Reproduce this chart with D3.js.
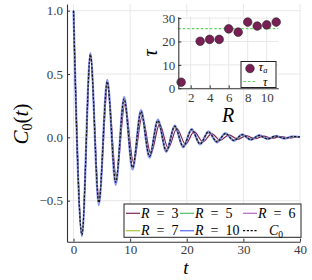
<!DOCTYPE html>
<html>
<head>
<meta charset="utf-8">
<script src="https://cdn.jsdelivr.net/npm/d3@7"></script>
<style>
  body { margin: 0; background: #fff; }
  svg { display: block; }
</style>
</head>
<body>
<svg id="chart" width="312" height="280"></svg>
<script>
// times of the peaks / troughs
const tExt = [0, 1.49, 2.98, 4.47, 5.96, 7.45, 8.94, 10.43, 11.92, 13.41, 14.9, 16.39, 17.88, 19.37,
  20.86, 22.35, 23.84, 25.33, 26.82, 28.31, 29.8, 31.29, 32.78, 34.27, 35.76, 37.25, 38.74, 40];
// R = 3 drifts slowly out of phase
const tExtR3 = [0, 1.5, 3.0, 4.52, 6.03, 7.55, 9.07, 10.6, 12.12, 13.65, 15.2, 16.72, 18.25, 19.78,
  21.3, 22.85, 24.4, 25.9, 27.45, 29.0, 30.5, 32.05, 33.6, 35.1, 36.65, 38.2, 39.7, 40];

const r3Vals = [1.0, -0.75, 0.62, -0.48, 0.40, -0.31, 0.26, -0.2, 0.165, -0.13, 0.105, -0.085, 0.07, -0.055,
  0.045, -0.036, 0.03, -0.024, 0.02, -0.016, 0.013, -0.011, 0.009, -0.007, 0.006, -0.005, 0.004, 0.003];
const r5Vals = [1.0, -0.765, 0.65, -0.505, 0.43, -0.345, 0.295, -0.23, 0.195, -0.145, 0.125, -0.1, 0.082, -0.068,
  0.056, -0.047, 0.039, -0.032, 0.027, -0.022, 0.018, -0.015, 0.012, -0.01, 0.008, -0.007, 0.005, 0.002];
const r6Vals = [1.0, -0.77, 0.645, -0.5, 0.425, -0.34, 0.29, -0.225, 0.19, -0.14, 0.12, -0.096, 0.078, -0.064,
  0.053, -0.044, 0.036, -0.03, 0.025, -0.02, 0.017, -0.014, 0.011, -0.009, 0.007, -0.006, 0.005, 0.002];
const r7Vals = [1.0, -0.768, 0.652, -0.51, 0.435, -0.35, 0.3, -0.235, 0.2, -0.147, 0.128, -0.104, 0.085, -0.071,
  0.059, -0.05, 0.041, -0.034, 0.028, -0.023, 0.019, -0.016, 0.013, -0.011, 0.009, -0.007, 0.005, 0.002];
const r10Vals = [1.0, -0.78, 0.665, -0.535, 0.455, -0.375, 0.32, -0.255, 0.215, -0.16, 0.14, -0.115, 0.094, -0.08,
  0.067, -0.056, 0.048, -0.04, 0.034, -0.028, 0.024, -0.02, 0.017, -0.014, 0.012, -0.01, 0.008, 0.003];
const c0Vals = [1.0, -0.77, 0.655, -0.515, 0.44, -0.355, 0.305, -0.24, 0.205, -0.15, 0.132, -0.108, 0.088, -0.074,
  0.062, -0.052, 0.044, -0.036, 0.03, -0.025, 0.021, -0.018, 0.015, -0.012, 0.01, -0.008, 0.006, 0.003];

const seriesLabels = ["3", "5", "6", "7", "10", "C0"];
const tTicks = [0, 10, 20, 30, 40];
const cTicks = [-0.5, 0, 0.5, 1.0];

// inset: decay time per range R
const insetR = [1, 3, 4, 5, 6, 7, 8, 9, 10, 11];
const insetTau = [2.6, 20.1, 20.9, 20.9, 25.4, 24.0, 28.3, 26.6, 27.1, 28.3];
const tauMean = 25.5;
const rTicks = [2, 4, 6, 8, 10];
const tauTicks = [0, 10, 20, 30];

const FONT = "'Liberation Serif', 'DejaVu Serif', serif";
const GRID = "#e8e8e8";
const SPINE = "#333";
const TICKTXT = "#3a3a3a";

const series = [
  { label: seriesLabels[0], t: tExtR3, v: r3Vals, color: "#7e2454", width: 1.2 },
  { label: seriesLabels[1], t: tExt, v: r5Vals, color: "#4cbf6a", width: 1.2 },
  { label: seriesLabels[2], t: tExt, v: r6Vals, color: "#b466c2", width: 1.2 },
  { label: seriesLabels[3], t: tExt, v: r7Vals, color: "#a9c43a", width: 1.2 },
  { label: seriesLabels[4], t: tExt, v: r10Vals, color: "#6e7ef2", width: 2.2, opacity: 0.8 },
  { label: seriesLabels[5], t: tExt, v: c0Vals, color: "#111", width: 1.2, dash: "2.2,1.6" }
];

const svg = d3.select("#chart");

// ---- main plot ----
const mx = d3.scaleLinear().domain([-1.15, 40]).range([67, 300]);
const my = d3.scaleLinear().domain([-0.824, 1.053]).range([241.7, 4]);

const grid = svg.append("g");
grid.selectAll(".vg").data(tTicks).enter().append("line")
  .attr("x1", d => mx(d)).attr("x2", d => mx(d))
  .attr("y1", my.range()[1]).attr("y2", my.range()[0])
  .attr("stroke", GRID).attr("stroke-width", 1);
grid.selectAll(".hg").data(cTicks).enter().append("line")
  .attr("x1", mx.range()[0]).attr("x2", mx.range()[1])
  .attr("y1", d => my(d)).attr("y2", d => my(d))
  .attr("stroke", GRID).attr("stroke-width", 1);

const line = d3.line().curve(d3.curveMonotoneX);

svg.append("g").selectAll("path").data(series).enter().append("path")
  .attr("d", s => line(s.t.map((t, i) => [mx(t), my(s.v[i])])))
  .attr("fill", "none")
  .attr("stroke", s => s.color)
  .attr("stroke-width", s => s.width)
  .attr("stroke-opacity", s => s.opacity || 1)
  .attr("stroke-dasharray", s => s.dash || null);

function styleAxis(g, size) {
  g.attr("font-family", FONT);
  g.select(".domain").attr("stroke", SPINE).attr("stroke-width", 1.1);
  g.selectAll(".tick line").attr("stroke", SPINE);
  g.selectAll(".tick text").attr("fill", TICKTXT)
    .style("font-family", FONT).attr("font-size", size);
}

svg.append("g")
  .attr("transform", `translate(0,${my.range()[0]})`)
  .call(d3.axisBottom(mx).tickValues(tTicks).tickFormat(d3.format("d"))
    .tickSizeInner(-3).tickSizeOuter(0).tickPadding(3))
  .call(g => styleAxis(g, 13));

svg.append("g")
  .attr("transform", `translate(${mx.range()[0]},0)`)
  .call(d3.axisLeft(my).tickValues(cTicks).tickFormat(d3.format(".1f"))
    .tickSizeInner(-3).tickSizeOuter(0).tickPadding(4))
  .call(g => styleAxis(g, 13));

// axis titles
svg.append("text")
  .attr("x", 186).attr("y", 274)
  .attr("text-anchor", "middle")
  .attr("font-family", FONT).attr("font-style", "italic").attr("font-size", 19)
  .text("t");

const yl = svg.append("text")
  .attr("transform", "translate(28,124) rotate(-90)")
  .attr("text-anchor", "middle")
  .attr("font-family", FONT).attr("font-size", 21);
yl.append("tspan").attr("font-style", "italic").text("C");
yl.append("tspan").attr("font-size", 14).attr("dy", 4).text("0");
yl.append("tspan").attr("dy", -4).text("(");
yl.append("tspan").attr("font-style", "italic").text("t");
yl.append("tspan").text(")");

// ---- main legend ----
const leg = svg.append("g");
leg.append("rect")
  .attr("x", 124).attr("y", 204).attr("width", 177).attr("height", 33.3)
  .attr("fill", "#fff").attr("stroke", "#222").attr("stroke-width", 1);

const colX = [126, 180, 243];
const rowY = [213.3, 230.7];
series.forEach((s, i) => {
  const x0 = colX[i % 3];
  const y0 = rowY[Math.floor(i / 3)];
  leg.append("line")
    .attr("x1", x0).attr("x2", x0 + 14).attr("y1", y0).attr("y2", y0)
    .attr("stroke", s.color).attr("stroke-width", s.label === "10" ? 1.4 : 1.2)
    .attr("stroke-dasharray", s.dash || null);
  const txt = leg.append("text")
    .attr("y", y0 + 4.4)
    .attr("font-family", FONT).attr("font-size", 14);
  if (s.label === "C0") {
    txt.attr("x", x0 + 26);
    txt.append("tspan").attr("font-style", "italic").text("C");
    txt.append("tspan").attr("font-size", 9.5).attr("dy", 3).text("0");
  } else {
    txt.attr("x", x0 + 15);
    txt.append("tspan").attr("font-style", "italic").text("R");
    txt.append("tspan").text("\u2002=\u2002" + s.label);
  }
});

// ---- inset ----
const ix = d3.scaleLinear().domain([0.7, 11.22]).range([178.3, 278.3]);
const iy = d3.scaleLinear().domain([0, 30.6]).range([88.3, 16.7]);

const inset = svg.append("g");
inset.append("rect")
  .attr("x", ix.range()[0]).attr("y", iy.range()[1])
  .attr("width", ix.range()[1] - ix.range()[0])
  .attr("height", iy.range()[0] - iy.range()[1])
  .attr("fill", "#fff");

inset.selectAll(".ivg").data(rTicks).enter().append("line")
  .attr("x1", d => ix(d)).attr("x2", d => ix(d))
  .attr("y1", iy.range()[1]).attr("y2", iy.range()[0])
  .attr("stroke", GRID);
inset.selectAll(".ihg").data(tauTicks).enter().append("line")
  .attr("x1", ix.range()[0]).attr("x2", ix.range()[1])
  .attr("y1", d => iy(d)).attr("y2", d => iy(d))
  .attr("stroke", GRID);

inset.append("line")
  .attr("x1", ix.range()[0]).attr("x2", ix.range()[1])
  .attr("y1", iy(tauMean)).attr("y2", iy(tauMean))
  .attr("stroke", "#5fd35f").attr("stroke-width", 1.1).attr("stroke-dasharray", "2.5,2");

inset.selectAll("circle.pt").data(insetR).enter().append("circle")
  .attr("class", "pt")
  .attr("cx", d => ix(d))
  .attr("cy", (d, i) => iy(insetTau[i]))
  .attr("r", 4.3)
  .attr("fill", "#7a1f55").attr("stroke", "#222").attr("stroke-width", 0.6);

inset.append("g")
  .attr("transform", `translate(0,${iy.range()[0]})`)
  .call(d3.axisBottom(ix).tickValues(rTicks).tickFormat(d3.format("d"))
    .tickSizeInner(-3).tickSizeOuter(0).tickPadding(4))
  .call(g => styleAxis(g, 13));

inset.append("g")
  .attr("transform", `translate(${ix.range()[0]},0)`)
  .call(d3.axisLeft(iy).tickValues(tauTicks).tickFormat(d3.format("d"))
    .tickSizeInner(-3).tickSizeOuter(0).tickPadding(3))
  .call(g => styleAxis(g, 13));

inset.append("text")
  .attr("x", 228).attr("y", 122)
  .attr("text-anchor", "middle")
  .attr("font-family", FONT).attr("font-style", "italic").attr("font-size", 20)
  .text("R");
inset.append("text")
  .attr("transform", "translate(157,53) rotate(-90)")
  .attr("text-anchor", "middle")
  .attr("font-family", FONT).attr("font-style", "italic").attr("font-size", 20)
  .text("τ");

// inset legend
inset.append("rect")
  .attr("x", 241).attr("y", 61.5).attr("width", 35).attr("height", 26)
  .attr("fill", "#fff").attr("stroke", "#222").attr("stroke-width", 1);
inset.append("circle")
  .attr("cx", 250).attr("cy", 68.5).attr("r", 4.3)
  .attr("fill", "#7a1f55").attr("stroke", "#222").attr("stroke-width", 0.6);
const tl = inset.append("text")
  .attr("x", 258.5).attr("y", 71)
  .attr("font-family", FONT).attr("font-size", 13);
tl.append("tspan").attr("font-style", "italic").text("τ");
tl.append("tspan").attr("font-style", "italic").attr("font-size", 8.5).attr("dy", 2).text("a");
inset.append("line")
  .attr("x1", 243.5).attr("x2", 256).attr("y1", 81.5).attr("y2", 81.5)
  .attr("stroke", "#5fd35f").attr("stroke-width", 1.1).attr("stroke-dasharray", "2.5,2");
inset.append("text")
  .attr("x", 263).attr("y", 86)
  .attr("font-family", FONT).attr("font-style", "italic").attr("font-size", 12)
  .text("τ");
</script>
</body>
</html>
